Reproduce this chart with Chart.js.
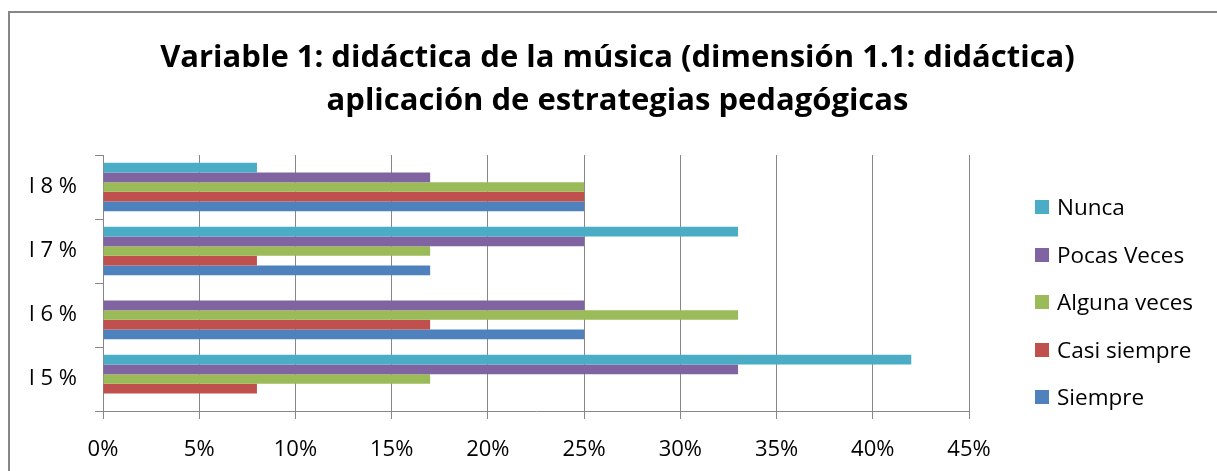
<!DOCTYPE html>
<html>
<head>
<meta charset="utf-8">
<script src="https://cdn.jsdelivr.net/npm/chart.js@4"></script>
<style>
  html,body{margin:0;padding:0;background:#fff;overflow:hidden;}
  #lineTop{position:absolute;left:8px;top:11px;width:1209px;height:2px;background:#868686;}
  #lineLeft{position:absolute;left:8px;top:11px;width:2px;height:460px;background:#868686;}
  #wrap{position:absolute;left:0;top:0;width:1217px;height:471px;}
  #title{position:absolute;left:18px;width:1199px;top:34px;text-align:center;font-family:"Open Sans","Liberation Sans",sans-serif;font-weight:bold;color:#000;line-height:43px;white-space:nowrap;}
  #legend{position:absolute;left:1035px;top:193px;font-family:"Open Sans","Liberation Sans",sans-serif;font-size:22.5px;color:#000;}
  .li{position:absolute;left:0;height:28px;white-space:nowrap;}
  .sw{position:absolute;left:0;top:7px;width:14px;height:14px;}
  .tx{position:absolute;left:22px;top:0;line-height:28px;}
</style>
</head>
<body>
<div id="lineTop"></div>
<div id="lineLeft"></div>
<div id="wrap"><canvas id="c" width="1217" height="471"></canvas></div>
<div id="title"><span id="t1">Variable 1: didáctica de la música (dimensión 1.1: didáctica)</span><br><span id="t2">aplicación de estrategias pedagógicas</span></div>
<div id="legend"></div>
<script>
// Categories (top to bottom)
const categories = ["I 8 %", "I 7 %", "I 6 %", "I 5 %"];
// Series values in percent, same order as categories
const nunca       = [8, 33, 0, 42];
const pocasVeces  = [17, 25, 25, 33];
const algunaVeces = [25, 17, 33, 17];
const casiSiempre = [25, 8, 17, 8];
const siempre     = [25, 17, 25, 0];
const seriesNames = ["Nunca", "Pocas Veces", "Alguna veces", "Casi siempre", "Siempre"];
const seriesColors = ["#4BACC6", "#8064A2", "#9BBB59", "#C0504D", "#4F81BD"];
const xTicks = [0, 5, 10, 15, 20, 25, 30, 35, 40, 45];

(function(){
  const t1 = document.getElementById('t1');
  const title = document.getElementById('title');
  let fs = 32;
  title.style.fontSize = fs + 'px';
  const w = t1.getBoundingClientRect().width;
  fs = fs * 915 / w;
  title.style.fontSize = fs.toFixed(2) + 'px';
})();

const seriesData = [nunca, pocasVeces, algunaVeces, casiSiempre, siempre];
const datasets = seriesNames.map((n, i) => ({
  label: n,
  data: seriesData[i],
  backgroundColor: seriesColors[i],
  borderWidth: 0,
  barPercentage: 1.0,
  categoryPercentage: 0.755
}));

const leg = document.getElementById('legend');
datasets.forEach((d, i) => {
  const item = document.createElement('div');
  item.className = 'li';
  item.style.top = (i * 47.5) + 'px';
  item.innerHTML = '<div class="sw" style="background:' + d.backgroundColor + '"></div><div class="tx"></div>';
  item.querySelector('.tx').textContent = d.label;
  leg.appendChild(item);
});

const gridColor = '#878787';
const tickFont = {family: '"Open Sans","Liberation Sans",sans-serif', size: 22};

new Chart(document.getElementById('c'), {
  type: 'bar',
  data: { labels: categories, datasets: datasets },
  options: {
    indexAxis: 'y',
    responsive: false,
    animation: false,
    events: [],
    layout: { padding: { left: 0, right: 1217 - 969, top: 155, bottom: 0 } },
    plugins: { legend: { display: false }, title: { display: false }, tooltip: { enabled: false } },
    scales: {
      x: {
        min: 0, max: 45,
        afterBuildTicks: (s) => { s.ticks = xTicks.map(v => ({ value: v })); },
        afterFit: (s) => { s.height = 471 - 411; },
        ticks: { callback: (v) => v + '%', color: '#000', font: tickFont, padding: 18, maxRotation: 0, autoSkip: false },
        grid: { color: gridColor, lineWidth: 1, tickLength: 8, drawTicks: true },
        border: { color: gridColor, width: 1 }
      },
      y: {
        afterFit: (s) => { s.width = 103; },
        ticks: { color: '#000', font: tickFont, padding: 18 },
        grid: { offset: true, drawOnChartArea: false, color: gridColor, tickLength: 8 },
        border: { color: gridColor, width: 1 }
      }
    }
  }
});
</script>
</body>
</html>
